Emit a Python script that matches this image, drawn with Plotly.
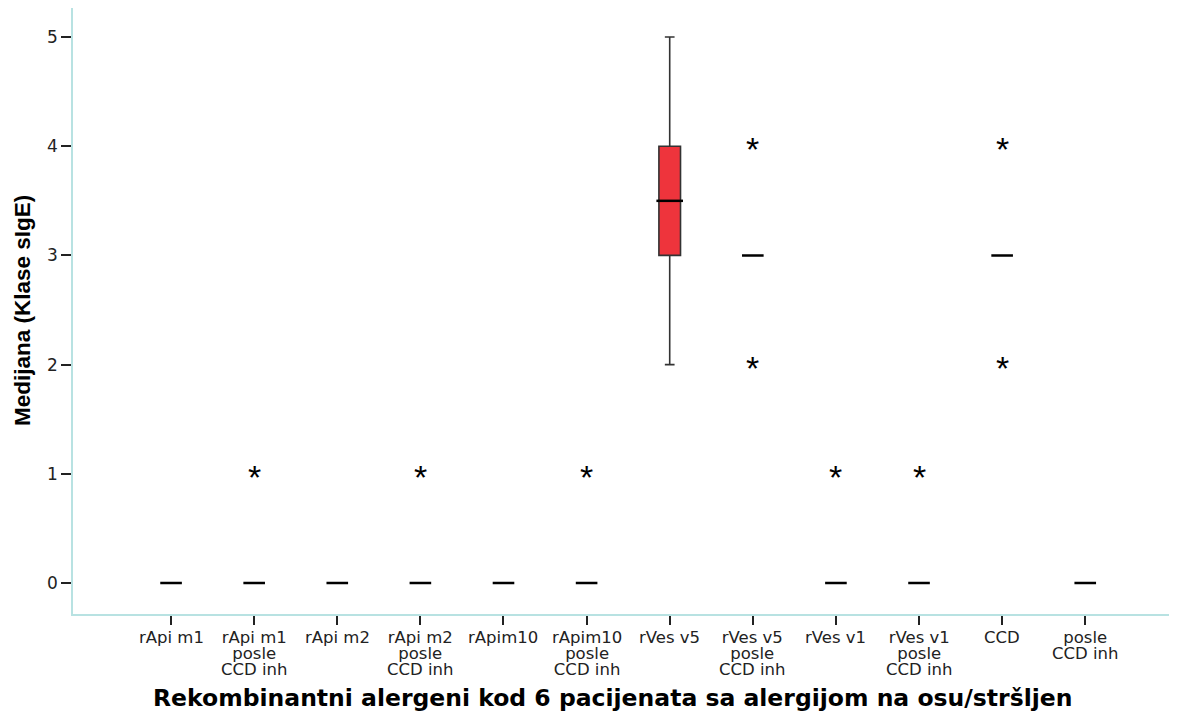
import plotly.graph_objects as go

categories = ["rApi m1", "rApi m1<br>posle<br>CCD inh", "rApi m2", "rApi m2<br>posle<br>CCD inh",
              "rApim10", "rApim10<br>posle<br>CCD inh", "rVes v5", "rVes v5<br>posle<br>CCD inh",
              "rVes v1", "rVes v1<br>posle<br>CCD inh", "CCD", "posle<br>CCD inh"]
medians = [0, 0, 0, 0, 0, 0, 3.5, 3, 0, 0, 3, 0]
q1 = [0, 0, 0, 0, 0, 0, 3, 3, 0, 0, 3, 0]
q3 = [0, 0, 0, 0, 0, 0, 4, 3, 0, 0, 3, 0]
lower = [0, 0, 0, 0, 0, 0, 2, 3, 0, 0, 3, 0]
upper = [0, 0, 0, 0, 0, 0, 5, 3, 0, 0, 3, 0]
out_x = ["rApi m1<br>posle<br>CCD inh", "rApi m2<br>posle<br>CCD inh", "rApim10<br>posle<br>CCD inh",
         "rVes v5<br>posle<br>CCD inh", "rVes v5<br>posle<br>CCD inh", "rVes v1",
         "rVes v1<br>posle<br>CCD inh", "CCD", "CCD"]
out_y = [1, 1, 1, 4, 2, 1, 1, 4, 2]
y_ticks = [0, 1, 2, 3, 4, 5]
x_title = "Rekombinantni alergeni kod 6 pacijenata sa alergijom na osu/stršljen"
y_title = "Medijana (Klase sIgE)"

fig = go.Figure()

flat_idx = [i for i in range(len(categories)) if q1[i] == q3[i]]
box_idx = [i for i in range(len(categories)) if q1[i] != q3[i]]

fig.add_trace(go.Box(
    x=[categories[i] for i in flat_idx],
    q1=[q1[i] for i in flat_idx], median=[medians[i] for i in flat_idx],
    q3=[q3[i] for i in flat_idx], lowerfence=[lower[i] for i in flat_idx],
    upperfence=[upper[i] for i in flat_idx],
    width=0.26, line=dict(color="black", width=2.5), fillcolor="black",
    boxpoints=False, showlegend=False, hoverinfo="skip"))

fig.add_trace(go.Box(
    x=[categories[i] for i in box_idx],
    q1=[q1[i] for i in box_idx], median=[medians[i] for i in box_idx],
    q3=[q3[i] for i in box_idx], lowerfence=[lower[i] for i in box_idx],
    upperfence=[upper[i] for i in box_idx],
    width=0.26, whiskerwidth=0.45, line=dict(color="#333333", width=1.6), fillcolor="#ee343c",
    boxpoints=False, showlegend=False))

fig.add_trace(go.Scatter(
    x=[categories[i] for i in box_idx], y=[medians[i] for i in box_idx],
    mode="markers", marker=dict(symbol="line-ew", size=19, line=dict(color="black", width=2.5)),
    showlegend=False, hoverinfo="skip"))

# outliers / extremes as asterisks
for xv, yv in zip(out_x, out_y):
    fig.add_annotation(x=xv, y=yv, xref="x", yref="y", text="*", showarrow=False,
                       yanchor="middle", yshift=-3,
                       font=dict(family="Liberation Sans, Arial", size=34, color="black"))

# category labels: small base size for tight line spacing, larger glyphs via span
for cat in categories:
    txt = "<br>".join('<span style="font-size:16.5px">' + p + "</span>" for p in cat.split("<br>"))
    fig.add_annotation(x=cat, xref="x", y=0, yref="paper", yanchor="top", yshift=-13,
                       text=txt, showarrow=False, borderpad=0,
                       font=dict(family="DejaVu Sans", size=12.3, color="#222222"))

fig.add_annotation(x=(612 - 73) / 1102, xref="paper", y=0, yref="paper", yanchor="middle",
                   yshift=-84, text="<b>" + x_title + "</b>", showarrow=False,
                   font=dict(family="DejaVu Sans", size=23.5, color="black"))
fig.add_annotation(x=0, xref="paper", xshift=-51, xanchor="center", y=0.5, yref="paper",
                   text="<b>" + y_title + "</b>", textangle=-90, showarrow=False,
                   font=dict(family="Liberation Sans, Arial", size=22.5, color="black"))

axis_line = "#b8e2e2"
fig.update_layout(
    width=1169, height=709,
    margin=dict(l=65, r=2, t=0, b=103),
    paper_bgcolor="white", plot_bgcolor="white",
    font=dict(family="Liberation Sans, Arial", color="#222222"),
    xaxis=dict(
        type="category", categoryorder="array", categoryarray=categories,
        range=[-1.18, 12.08], showgrid=False, zeroline=False, automargin=False,
        showline=True, linecolor=axis_line, linewidth=1.5, mirror=True,
        ticks="outside", ticklen=9, tickwidth=1.5, tickcolor="#222222",
        showticklabels=False,
    ),
    yaxis=dict(
        range=[-0.284, 5.266], tickvals=y_ticks, showgrid=False, zeroline=False, automargin=False,
        showline=True, linecolor=axis_line, linewidth=1.5, mirror=True,
        ticks="outside", ticklen=10, tickwidth=1.5, tickcolor="#222222",
        tickfont=dict(family="DejaVu Sans", size=17, color="#222222"),
    ),
)

fig.write_html("out.html")
